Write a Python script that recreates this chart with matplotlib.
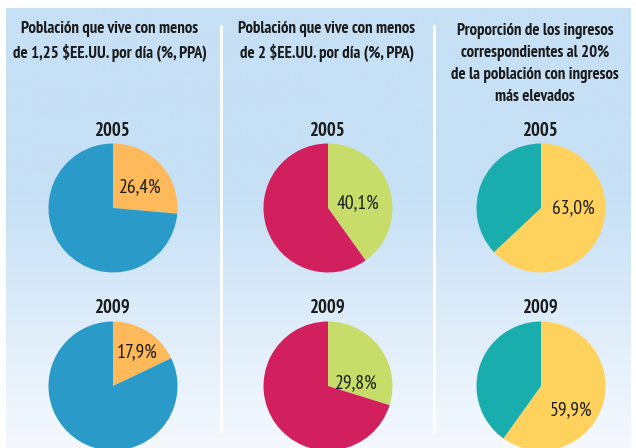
import numpy as np
import matplotlib
matplotlib.use("Agg")
import matplotlib.pyplot as plt
from matplotlib.colors import LinearSegmentedColormap
from matplotlib.patches import Rectangle

# data
titles = [
    ["Población que vive con menos", "de 1,25 $EE.UU. por día (%, PPA)"],
    ["Población que vive con menos", "de 2 $EE.UU. por día (%, PPA)"],
    ["Proporción de los ingresos", "correspondientes al 20%",
     "de la población con ingresos", "más elevados"],
]
years = ["2005", "2009"]
share_2005 = [26.4, 40.1, 63.0]
share_2009 = [17.9, 29.8, 59.9]
main_colors = ["#fdb95a", "#c8dc6a", "#ffd25e"]
rest_colors = ["#2a9bc8", "#d21f5e", "#1aadad"]

plt.rcParams['font.family'] = ['PT Sans Narrow', 'DejaVu Sans']

W, H = 636, 448
fig = plt.figure(figsize=(W / 100, H / 100), dpi=100)
fig.patch.set_facecolor("white")

# background in pixel coords
bg = fig.add_axes([0, 0, 1, 1])
bg.set_xlim(0, W)
bg.set_ylim(H, 0)
bg.axis("off")
grad = np.concatenate([np.zeros(190), np.linspace(0, 1, 258)])[:, None]
cmap = LinearSegmentedColormap.from_list("bgblue", ["#c6e0f5", "#f5f9fe"])
bg.imshow(grad, cmap=cmap, aspect="auto", extent=[6, 631, 448, 8],
          interpolation="bilinear", vmin=0, vmax=1)
for sx in [219.5, 433]:
    bg.add_patch(Rectangle((sx, 25), 3, 409, color="white", lw=0))

title_x = [110, 327, 535]
title_y = [[29, 53], [29, 53], [31, 53, 75, 97]]
for i in range(3):
    for line, ty in zip(titles[i], title_y[i]):
        bg.text(title_x[i], ty, line, ha="center", va="center",
                fontsize=12.1, fontweight="bold", color="#1a1a1a")

# pies
pie_x = [113, 328, 541]
pie_y = [208, 386]
year_y = [131, 308]
r = 64.5
label_pos = [
    [(0.42, 0.32), (0.38, 0.52)],
    [(0.47, 0.08), (0.43, 0.05)],
    [(0.5, 0.0), (0.47, -0.38)],
]
for j, vals in enumerate([share_2005, share_2009]):
    for i in range(3):
        v = vals[i]
        cx, cy = pie_x[i], pie_y[j]
        ax = fig.add_axes([(cx - r) / W, 1 - (cy + r) / H, 2 * r / W, 2 * r / H])
        ax.pie([v, 100 - v], colors=[main_colors[i], rest_colors[i]],
               startangle=90, counterclock=False, radius=1,
               wedgeprops=dict(linewidth=0))
        ax.set_xlim(-1, 1)
        ax.set_ylim(-1, 1)
        ax.axis("off")
        lx, ly = label_pos[i][j]
        ax.text(lx, ly, f"{v:.1f}%".replace(".", ","), ha="center",
                va="center", fontsize=14, color="#1a1a1a")
        bg.text(cx, year_y[j], years[j], ha="center", va="center",
                fontsize=13.5, fontweight="bold", color="#1a1a1a")

fig.savefig("out.png", dpi=100)
